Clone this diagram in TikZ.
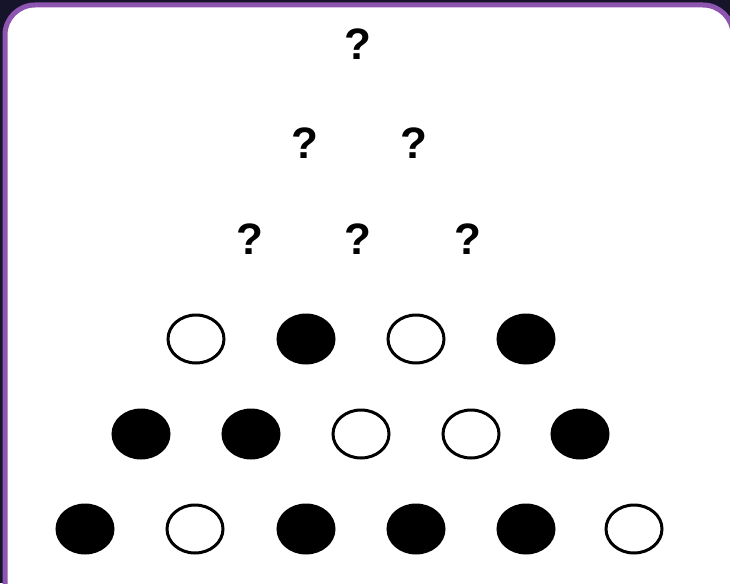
\documentclass[tikz,border=0pt]{standalone}
\usepackage{fontspec}
\setmainfont{Liberation Sans}
\usetikzlibrary{shapes.geometric}
\definecolor{bgdark}{HTML}{15142A}
\definecolor{cardedge}{HTML}{8E55B0}
\tikzset{
  qmark/.style={font=\fontsize{44}{44}\selectfont\bfseries, inner sep=0pt},
  dot/.style={ellipse, minimum width=56pt, minimum height=48pt, inner sep=0pt, line width=3pt, draw=black},
  opendot/.style={dot, fill=white},
  fulldot/.style={dot, fill=black},
}
\begin{document}
\begin{tikzpicture}[x=1pt,y=-1pt]
\useasboundingbox (0,0) rectangle (730,583);
\clip (0,0) rectangle (730,583);
\fill[bgdark] (0,0) rectangle (730,583);
\draw[cardedge, line width=5pt, fill=white, rounded corners=30pt] (5,5) rectangle (733,620);
% question marks
\node[qmark] (q1) at (358,44) {?};
\node[qmark] (q2) at (305,143) {?};
\node[qmark] (q3) at (414,143) {?};
\node[qmark] (q4) at (250,239) {?};
\node[qmark] (q5) at (358,239) {?};
\node[qmark] (q6) at (468,239) {?};
% row 1
\node[opendot] (a1) at (196,339) {};
\node[fulldot] (a2) at (306,339) {};
\node[opendot] (a3) at (416,339) {};
\node[fulldot] (a4) at (526,339) {};
% row 2
\node[fulldot] (b1) at (141,434) {};
\node[fulldot] (b2) at (251,434) {};
\node[opendot] (b3) at (361,434) {};
\node[opendot] (b4) at (471,434) {};
\node[fulldot] (b5) at (580,434) {};
% row 3
\node[fulldot] (c1) at (85,529) {};
\node[opendot] (c2) at (195,529) {};
\node[fulldot] (c3) at (306,529) {};
\node[fulldot] (c4) at (416,529) {};
\node[fulldot] (c5) at (526,529) {};
\node[opendot] (c6) at (634,529) {};
\end{tikzpicture}
\end{document}
